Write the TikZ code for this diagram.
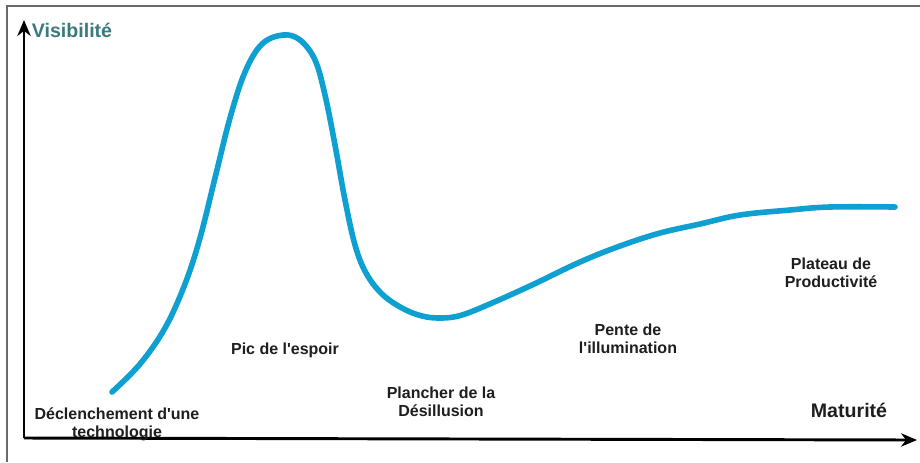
\documentclass[tikz,border=0pt]{standalone}
\usepackage{fontspec}
\setmainfont{Liberation Sans}
\usetikzlibrary{arrows.meta}
\definecolor{curvecol}{HTML}{0FA0D2}
\definecolor{tealtxt}{HTML}{3A7A7C}
\definecolor{framecol}{HTML}{6A6A6A}
\definecolor{labtxt}{HTML}{1E1E1E}
\tikzset{
  lab/.style={font=\fontsize{12}{13.5}\selectfont\bfseries, text=labtxt, align=center, inner sep=0pt},
  axlab/.style={font=\fontsize{14.7}{16}\selectfont\bfseries, inner sep=0pt},
  axis/.style={line width=2.2pt, -{Stealth[length=12pt,width=10pt]}},
  hype/.style={line width=4.2pt, curvecol, line cap=round, line join=round}
}
\begin{document}
\begin{tikzpicture}[x=0.75pt,y=-0.75pt]
\useasboundingbox (0,0) rectangle (920,462);
\fill[white] (0,0) rectangle (920,462);
% frame
\draw[framecol, line width=1.2pt] (7,462) -- (7,6) -- (920,6);
% axes
\coordinate (o) at (24,438);
\coordinate (ytip) at (24,20);
\coordinate (xtip) at (917,440);
\draw[axis] (o) -- (ytip);
\draw[axis] (o) -- (xtip);
% axis labels
\node[axlab, text=tealtxt] (vis) at (72,30) {Visibilité};
\node[axlab, text=labtxt] (mat) at (849,410) {Maturité};
% hype curve
\draw[hype] plot[smooth, tension=0.6] coordinates {
 (112,392) (140,364) (165,328) (185,284) (200,238) (215,178) (230,118)
 (245,72) (262,44) (283,35) (300,40) (315,60) (325,95) (335,145)
 (345,200) (355,245) (366,273) (382,294) (402,308) (422,316) (442,318)
 (462,315) (492,303) (532,285) (580,262) (620,246) (660,233) (700,224)
 (740,215) (790,210) (830,207) (895,207)};
% phase labels
\node[lab] (l1) at (117,424) {Déclenchement d\textquotesingle une\\technologie};
\node[lab] (l2) at (285,350) {Pic de l\textquotesingle espoir};
\node[lab] (l3) at (441,402) {Plancher de la\\Désillusion};
\node[lab] (l4) at (628,339) {Pente de\\l\textquotesingle illumination};
\node[lab] (l5) at (831,273) {Plateau de\\Productivité};
\end{tikzpicture}
\end{document}
